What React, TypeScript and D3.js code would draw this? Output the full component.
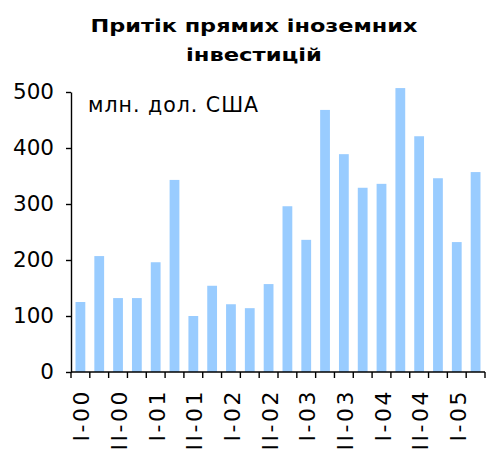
import { useEffect, useRef } from "react"
import * as d3 from "d3"

const QUARTERS = [
  "I-00", "II-00", "III-00", "IV-00",
  "I-01", "II-01", "III-01", "IV-01",
  "I-02", "II-02", "III-02", "IV-02",
  "I-03", "II-03", "III-03", "IV-03",
  "I-04", "II-04", "III-04", "IV-04",
  "I-05", "II-05",
]
const FDI = [
  125, 207, 132, 132, 196, 343, 100, 154, 121, 114, 157,
  296, 236, 468, 389, 329, 336, 507, 421, 346, 232, 357,
]
const Y_TICKS = [0, 100, 200, 300, 400, 500]
const TITLE_LINES = ["Притік прямих іноземних", "інвестицій"]
const UNIT = "млн. дол. США"

const W = 486
const H = 450
const M = { left: 71, right: 1, top: 92, bottom: 78 }
const FONT = "'DejaVu Sans', Verdana, sans-serif"
// the original title font is a wide bold face; stretch DejaVu to its widths
const TITLE_WIDTHS = [327, 136]

export default function App() {
  const ref = useRef<SVGSVGElement>(null)

  useEffect(() => {
    const svg = d3.select(ref.current)
    svg.selectAll("*").remove()

    const x = d3
      .scaleBand<string>()
      .domain(QUARTERS)
      .range([M.left, W - M.right])
      .paddingInner(0.48)
      .paddingOuter(0.24)
    const y = d3.scaleLinear().domain([0, 500]).range([H - M.bottom, M.top])

    // title
    svg
      .append("g")
      .selectAll("text")
      .data(TITLE_LINES)
      .join("text")
      .attr("x", 254)
      .attr("y", (_, i) => 32 + i * 29)
      .attr("text-anchor", "middle")
      .attr("font-family", FONT)
      .attr("font-weight", "bold")
      .attr("font-size", 18.5)
      .attr("textLength", (_, i) => TITLE_WIDTHS[i])
      .attr("lengthAdjust", "spacingAndGlyphs")
      .attr("fill", "#000")
      .text((d) => d)

    // bars
    svg
      .append("g")
      .selectAll("rect")
      .data(FDI)
      .join("rect")
      .attr("x", (_, i) => x(QUARTERS[i])!)
      .attr("width", x.bandwidth())
      .attr("y", (d) => y(d))
      .attr("height", (d) => y(0) - y(d))
      .attr("fill", "#99ccff")

    // y axis
    const yAxis = svg
      .append("g")
      .attr("transform", `translate(${M.left},0)`)
      .call(d3.axisLeft(y).tickValues(Y_TICKS).tickSize(5).tickPadding(12).tickSizeOuter(0))
    yAxis.select(".domain").attr("stroke", "#000").attr("stroke-width", 1.4)
    yAxis.selectAll("line").attr("stroke", "#000").attr("stroke-width", 1.4)
    yAxis
      .selectAll("text")
      .attr("font-family", FONT)
      .attr("font-size", 21.5)
      .attr("fill", "#000")

    // x axis: ticks between categories
    const xg = svg.append("g").attr("transform", `translate(0,${y(0)})`)
    xg.append("line")
      .attr("x1", M.left)
      .attr("x2", W - M.right)
      .attr("stroke", "#000")
      .attr("stroke-width", 1.4)
    const step = x.step()
    const bounds = d3.range(QUARTERS.length + 1).map((i) => M.left + i * step)
    xg.selectAll("line.tick")
      .data(bounds)
      .join("line")
      .attr("class", "tick")
      .attr("x1", (d) => d)
      .attr("x2", (d) => d)
      .attr("y1", 0)
      .attr("y2", 6)
      .attr("stroke", "#000")
      .attr("stroke-width", 1.4)

    const labelled = QUARTERS.filter((_, i) => i % 2 === 0)
    xg.selectAll("text")
      .data(labelled)
      .join("text")
      .attr(
        "transform",
        (d) => `translate(${x(d)! + x.bandwidth() / 2 + 9},17) rotate(-90)`
      )
      .attr("text-anchor", "end")
      .attr("font-family", FONT)
      .attr("font-size", 22)
      .attr("letter-spacing", 2.5)
      .attr("fill", "#000")
      .text((d) => d)

    // unit label
    svg
      .append("text")
      .attr("x", 88)
      .attr("y", 112)
      .attr("font-family", FONT)
      .attr("font-size", 20.5)
      .attr("letter-spacing", 1)
      .attr("fill", "#000")
      .text(UNIT)
  }, [])

  return (
    <div style={{ position: "absolute", left: 0, top: 0 }}>
      <svg ref={ref} width={W} height={H} style={{ display: "block", background: "#fff" }} />
    </div>
  )
}
